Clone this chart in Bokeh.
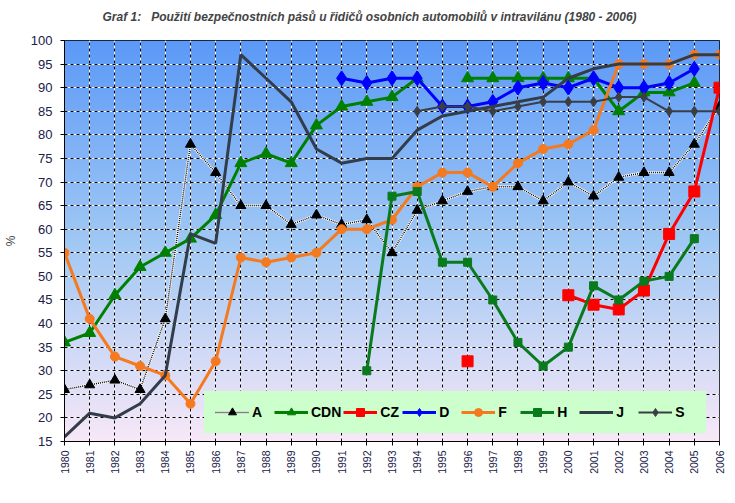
import numpy as np
from bokeh.plotting import figure
from bokeh.models import Legend, LegendItem, Grid, FixedTicker, Range1d, Title
from bokeh.embed import file_html
from bokeh.resources import INLINE

nan = float("nan")
years = list(range(1980, 2007))
A = [26, 27, 28, 26, 41, 78, 72, 65, 65, 61, 63, 61, 62, 55, 64, 66, 68, 69, 69, 66, 70, 67, 71, 72, 72, 78, 86]
CDN = [36, 38, 46, 52, 55, 58, 63, 74, 76, 74, 82, 86, 87, 88, 92, nan, 92, 92, 92, 92, 92, 92, 85, 89, 89, 91, nan]
CZ = [nan] * 16 + [32, nan, nan, nan, 46, 44, 43, 47, 59, 68, 90]
D = [nan] * 11 + [92, 91, 92, 92, 86, 86, 87, 90, 91, 90, 92, 90, 90, 91, 94, nan]
F = [55, 41, 33, 31, 29, 23, 32, 54, 53, 54, 55, 60, 60, 62, 69, 72, 72, 69, 74, 77, 78, 81, 95, 95, 95, 97, 97]
H = [nan] * 12 + [30, 67, 68, 53, 53, 45, 36, 31, 35, 48, 45, 49, 50, 58, nan]
J = [16, 21, 20, 23, 29, 59, 57, 97, 92, 87, 77, 74, 75, 75, 81, 84, 85, 86, 87, 88, 92, 94, 95, 95, 95, 97, 97]
S = [nan] * 14 + [85, 86, 86, 85, 86, 87, 87, 87, 88, 88, 85, 85, 85]
y_ticks = list(range(15, 101, 5))
title = "Graf 1:\u00a0\u00a0\u00a0Použití bezpečnostních pásů u řidičů osobních automobilů v intravilánu (1980 - 2006)"

p = figure(width=735, height=503, output_backend="svg", toolbar_location=None,
           x_range=Range1d(1980, 2006), y_range=Range1d(15, 100),
           min_border_left=61, min_border_right=16, min_border_top=40, min_border_bottom=62,
           background_fill_color="white", border_fill_color="white")
p.title.text = title
p.title.text_font = "Liberation Sans"
p.title.text_font_size = "12px"
p.title.text_font_style = "bold italic"
p.title.align = "left"
p.title.offset = 38
spacer = Title(text=" ", text_font_size="6px", text_color="white", standoff=4)
p.add_layout(spacer, "above")
p.outline_line_color = "black"
p.outline_line_width = 1

# gradient background
n = 200
stops = [(0.0, (248, 232, 248)), (0.5, (160, 200, 244)), (1.0, (92, 154, 248))]
img = np.zeros((n, 1), dtype=np.uint32)
view = img.view(dtype=np.uint8).reshape((n, 1, 4))
for i in range(n):
    t = i / (n - 1)
    for k in range(len(stops) - 1):
        t0, c0 = stops[k]
        t1, c1 = stops[k + 1]
        if t0 <= t <= t1:
            f = (t - t0) / (t1 - t0)
            c = [int(c0[j] + (c1[j] - c0[j]) * f) for j in range(3)]
            break
    view[i, 0, 0], view[i, 0, 1], view[i, 0, 2], view[i, 0, 3] = c[0], c[1], c[2], 255
p.image_rgba(image=[img], x=1980, y=15, dw=26, dh=85, level="image")

# grids
p.xaxis.ticker = FixedTicker(ticks=years)
p.yaxis.ticker = FixedTicker(ticks=y_ticks)
p.xgrid.grid_line_color = "white"
p.ygrid.grid_line_color = "white"
p.xgrid.grid_line_width = 1
p.ygrid.grid_line_width = 1
gx = Grid(dimension=0, ticker=p.xaxis[0].ticker, grid_line_color="black", grid_line_dash="3 3", grid_line_width=1)
gy = Grid(dimension=1, ticker=p.yaxis[0].ticker, grid_line_color="black", grid_line_dash="3 3", grid_line_width=1)
p.add_layout(gx, "center")
p.add_layout(gy, "center")

# axes
for ax in (p.xaxis[0], p.yaxis[0]):
    ax.axis_line_color = "black"
    ax.major_tick_line_color = "black"
    ax.minor_tick_line_color = None
    ax.major_tick_in = 0
    ax.major_tick_out = 4
    ax.major_label_text_font = "Liberation Sans"
    ax.major_label_text_color = "#202048"
p.yaxis.major_label_text_font_size = "13px"
p.xaxis.major_label_text_font_size = "10.5px"
p.xaxis.major_label_orientation = np.pi / 2
p.xaxis.major_label_standoff = 5
p.yaxis.major_label_standoff = 8
p.yaxis.axis_label = "%"
p.yaxis.axis_label_text_font = "Liberation Sans"
p.yaxis.axis_label_text_font_size = "12px"
p.yaxis.axis_label_text_font_style = "normal"
p.yaxis.axis_label_standoff = 10

items = []
# A
a1 = p.line(years, A, line_color="white", line_width=2.5)
a2 = p.line(years, A, line_color="black", line_width=1.5, line_dash="1 1")
a3 = p.scatter(years, A, marker="triangle", size=10, fill_color="black", line_color="black")
items.append(LegendItem(label="A", renderers=[a1, a2, a3]))
# CDN
c1 = p.line(years, CDN, line_color="#008000", line_width=3)
c2 = p.scatter(years, CDN, marker="triangle", size=12, fill_color="#008000", line_color="#008000")
items.append(LegendItem(label="CDN", renderers=[c1, c2]))
# CZ
z1 = p.line(years, CZ, line_color="#ff0000", line_width=3)
z2 = p.scatter(years, CZ, marker="square", size=11, fill_color="#ff0000", line_color="#ff0000")
items.append(LegendItem(label="CZ", renderers=[z1, z2]))
# D
d1 = p.line(years, D, line_color="#0000ff", line_width=3)
d2 = p.scatter(years, D, marker="diamond", size=15, fill_color="#0000ff", line_color="#0000ff")
items.append(LegendItem(label="D", renderers=[d1, d2]))
# F
f1 = p.line(years, F, line_color="#f57a1f", line_width=3)
f2 = p.scatter(years, F, marker="circle", size=9, fill_color="#f57a1f", line_color="#f57a1f")
items.append(LegendItem(label="F", renderers=[f1, f2]))
# H
h1 = p.line(years, H, line_color="#0a7a1e", line_width=3)
h2 = p.scatter(years, H, marker="square", size=8, fill_color="#0a7a1e", line_color="#0a7a1e")
items.append(LegendItem(label="H", renderers=[h1, h2]))
# J
j1 = p.line(years, J, line_color="#333d4a", line_width=3)
items.append(LegendItem(label="J", renderers=[j1]))
# S
s1 = p.line(years, S, line_color="#3a3f44", line_width=2)
s2 = p.scatter(years, S, marker="diamond", size=10, fill_color="#3a3f44", line_color="#3a3f44")
items.append(LegendItem(label="S", renderers=[s1, s2]))

legend = Legend(items=items, orientation="horizontal", location=(140, 8),
                background_fill_color="#ccffcc", background_fill_alpha=1.0,
                border_line_color="#ccffcc", border_line_width=1,
                label_text_font="Liberation Sans",
                label_text_font_size="14px", label_text_font_style="bold",
                label_text_color="black", glyph_width=34, glyph_height=20,
                label_height=20, label_standoff=3, spacing=2, padding=10, margin=0)
p.add_layout(legend, "center")

open("out.html", "w").write(file_html(p, INLINE))
